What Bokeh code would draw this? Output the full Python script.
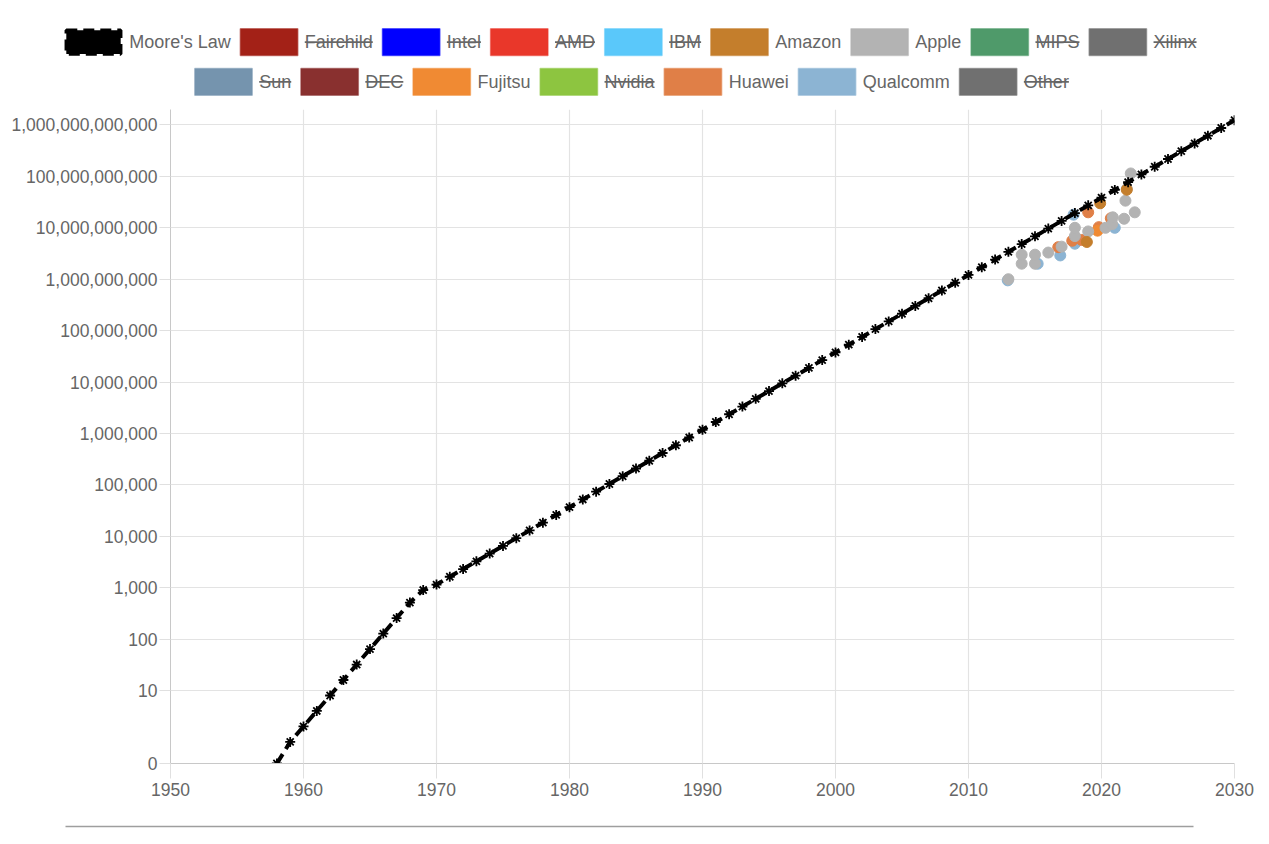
from bokeh.plotting import figure
from bokeh.models import FixedTicker, NumeralTickFormatter, Range1d
from bokeh.layouts import column
from bokeh.embed import file_html
from bokeh.resources import INLINE
from bokeh.core.properties import value

FONT = "Liberation Sans"

# ---------------- data ----------------
moore_years = [1958, 1959, 1960, 1961, 1962, 1963, 1964, 1965, 1966, 1967, 1968, 1969,
               1970, 1971, 1972, 1973, 1974, 1975, 1976, 1977, 1978, 1979, 1980, 1981,
               1982, 1983, 1984, 1985, 1986, 1987, 1988, 1989, 1990, 1991, 1992, 1993,
               1994, 1995, 1996, 1997, 1998, 1999, 2000, 2001, 2002, 2003, 2004, 2005,
               2006, 2007, 2008, 2009, 2010, 2011, 2012, 2013, 2014, 2015, 2016, 2017,
               2018, 2019, 2020, 2021, 2022, 2023, 2024, 2025, 2026, 2027, 2028, 2029, 2030]
moore_values = [0, 1, 2, 4, 8, 16, 32, 64, 128, 256, 512, 900,
                1150, 1630, 2300, 3250, 4600, 6500, 9200, 13000, 18400, 26000, 36800, 52000,
                73600, 104000, 147000, 208000, 294000, 416000, 589000, 833000, 1180000, 1670000, 2360000, 3330000,
                4710000, 6660000, 9420000, 13300000, 18800000, 26700000, 37700000, 53300000, 75400000, 107000000, 151000000, 213000000,
                302000000, 426000000, 603000000, 853000000, 1210000000, 1710000000, 2410000000, 3410000000, 4830000000, 6820000000, 9650000000, 13600000000,
                19300000000, 27300000000, 38600000000, 54600000000, 77200000000, 109000000000, 154000000000, 218000000000, 309000000000, 437000000000, 618000000000, 873000000000, 1240000000000]

qualcomm_year = [2012.95, 2015.2, 2016.9, 2017.9, 2018.0, 2021.0]
qualcomm_val = [0.95e9, 2.0e9, 2.9e9, 1.8e10, 4.9e9, 1.0e10]

huawei_year = [2016.75, 2017.8, 2018.5, 2019.0, 2019.8, 2020.7]
huawei_val = [4.2e9, 5.6e9, 5.8e9, 2.0e10, 1.03e10, 1.53e10]

fujitsu_year = [2019.7]
fujitsu_val = [8.79e9]

apple_year = [2013.0, 2014.0, 2014.0, 2015.0, 2015.0, 2016.0, 2017.0, 2018.0, 2018.0,
              2019.0, 2020.3, 2020.8, 2020.85, 2021.7, 2021.8, 2021.9, 2022.2, 2022.5]
apple_val = [1.0e9, 2.0e9, 3.0e9, 2.0e9, 3.0e9, 3.3e9, 4.3e9, 6.9e9, 1.0e10,
             8.5e9, 1.0e10, 1.18e10, 1.6e10, 1.5e10, 3.37e10, 5.7e10, 1.14e11, 2.0e10]

amazon_year = [2018.9, 2019.9, 2021.9]
amazon_val = [5.3e9, 3.0e10, 5.5e10]

x_ticks = [1950, 1960, 1970, 1980, 1990, 2000, 2010, 2020, 2030]

legend_row1 = ["Moore's Law", "Fairchild", "Intel", "AMD", "IBM", "Amazon", "Apple", "MIPS", "Xilinx"]
legend_row1_colors = ["#000000", "#A32117", "#0000FF", "#E9372A", "#5AC8FA", "#C47E2C", "#B3B3B3", "#4F9A6A", "#707070"]
legend_row1_hidden = [False, True, True, True, True, False, False, True, True]
legend_row2 = ["Sun", "DEC", "Fujitsu", "Nvidia", "Huawei", "Qualcomm", "Other"]
legend_row2_colors = ["#7594AE", "#89302F", "#F08A33", "#8DC540", "#E07F47", "#8CB4D3", "#707070"]
legend_row2_hidden = [True, True, False, True, False, False, True]

# ---------------- helpers ----------------
ARIAL = {' ': 278, "'": 191, 'A': 667, 'B': 667, 'C': 722, 'D': 722, 'E': 667, 'F': 611,
         'H': 722, 'I': 278, 'L': 556, 'M': 833, 'N': 722, 'O': 778, 'P': 667, 'Q': 778,
         'S': 667, 'X': 667, 'a': 556, 'b': 556, 'c': 500, 'd': 556, 'e': 556, 'f': 278,
         'g': 556, 'h': 556, 'i': 222, 'j': 222, 'l': 222, 'm': 833, 'n': 556, 'o': 556,
         'p': 556, 'r': 333, 's': 500, 't': 278, 'u': 556, 'v': 500, 'w': 722, 'x': 500, 'z': 500}


def text_width(s, size):
    return sum(ARIAL.get(c, 556) for c in s) * size / 1000.0


W = 1261
LH = 100
LEG_FS = 18
BOX_W, BOX_H = 57.4, 26.7
ITEM_GAP = 9.7

leg = figure(width=W, height=LH, x_range=Range1d(0, W), y_range=Range1d(LH, 0),
             x_axis_type=None, y_axis_type=None, output_backend="svg",
             toolbar_location=None, min_border=0)
leg.grid.visible = False
leg.outline_line_color = None
leg.frame_align = False


def draw_row(names, colors, hidden, x_start, cy):
    x = x_start
    for name, col, hid in zip(names, colors, hidden):
        bx = x + BOX_W / 2
        if name == "Moore's Law":
            leg.rect(x=[bx], y=[cy], width=BOX_W - 3, height=BOX_H - 3,
                     fill_color="black", line_color="black", line_width=3.5, line_dash="11 6")
        else:
            leg.rect(x=[bx], y=[cy], width=BOX_W, height=BOX_H,
                     fill_color=col, line_color=col, line_alpha=0.55, line_width=1.5)
        tx = x + BOX_W + 7
        leg.text(x=[tx], y=[cy], text=[name], text_font=value(FONT),
                 text_font_size=f"{LEG_FS}px", text_color="#666666",
                 text_baseline="middle", text_align="left")
        tw = text_width(name, LEG_FS)
        if hid:
            leg.segment(x0=[tx], y0=[cy], x1=[tx + tw], y1=[cy],
                        line_color="#666666", line_width=1.8)
        x = tx + tw + ITEM_GAP


draw_row(legend_row1, legend_row1_colors, legend_row1_hidden, 64.3, 41.7)
draw_row(legend_row2, legend_row2_colors, legend_row2_hidden, 194.3, 81.3)

# ---------------- main chart ----------------
Y_MIN = 10 ** -0.42
Y_MAX = 2e12

p = figure(width=W, height=715, x_range=Range1d(1950, 2030), y_range=Range1d(Y_MIN, Y_MAX),
           y_axis_type="log", output_backend="svg", toolbar_location=None,
           min_border_left=170, min_border_right=27, min_border_top=9, min_border_bottom=52)
p.outline_line_color = None
p.frame_align = False

p.xaxis.ticker = FixedTicker(ticks=x_ticks)
y_ticks = [Y_MIN] + [10.0 ** k for k in range(1, 13)]
p.yaxis.ticker = FixedTicker(ticks=y_ticks)
p.yaxis.formatter = NumeralTickFormatter(format="0,0")

for ax in p.axis:
    ax.major_label_text_font = FONT
    ax.major_label_text_font_size = "17.5px"
    ax.major_label_text_color = "#666666"
    ax.axis_line_color = "#c8c8c8"
    ax.major_tick_line_color = "#e0e0e0"
    ax.major_tick_in = 0
    ax.minor_tick_line_color = None
p.xaxis.major_tick_out = 15
p.xaxis.major_label_standoff = 4
p.yaxis.major_tick_out = 11
p.yaxis.major_label_standoff = 2

p.grid.grid_line_color = "#e3e3e3"
p.grid.grid_line_width = 1.2

# scatter series (drawn back to front)
p.scatter(qualcomm_year, qualcomm_val, size=11, color="#8CB4D3")
p.scatter(huawei_year, huawei_val, size=11, color="#E07F47")
p.scatter(fujitsu_year, fujitsu_val, size=11, color="#F08A33")
p.scatter(apple_year, apple_val, size=11, color="#B3B3B3")
p.scatter(amazon_year, amazon_val, size=11, color="#C47E2C")

moore_plot_vals = [v if v > 0 else Y_MIN for v in moore_values]
p.line(moore_years, moore_plot_vals, line_color="black", line_width=4, line_dash="11 6")
p.scatter(moore_years, moore_plot_vals, marker="asterisk", size=10,
          line_color="black", line_width=1.8)

# ---------------- bottom rule ----------------
hr = figure(width=W, height=21, x_range=Range1d(0, W), y_range=Range1d(21, 0),
            x_axis_type=None, y_axis_type=None, output_backend="svg",
            toolbar_location=None, min_border=0)
hr.grid.visible = False
hr.outline_line_color = None
hr.frame_align = False
hr.segment(x0=[65], y0=[11], x1=[1193], y1=[11], line_color="#9e9e9e", line_width=1.6)

layout = column(leg, p, hr, spacing=0)
open("out.html", "w").write(file_html(layout, INLINE))
